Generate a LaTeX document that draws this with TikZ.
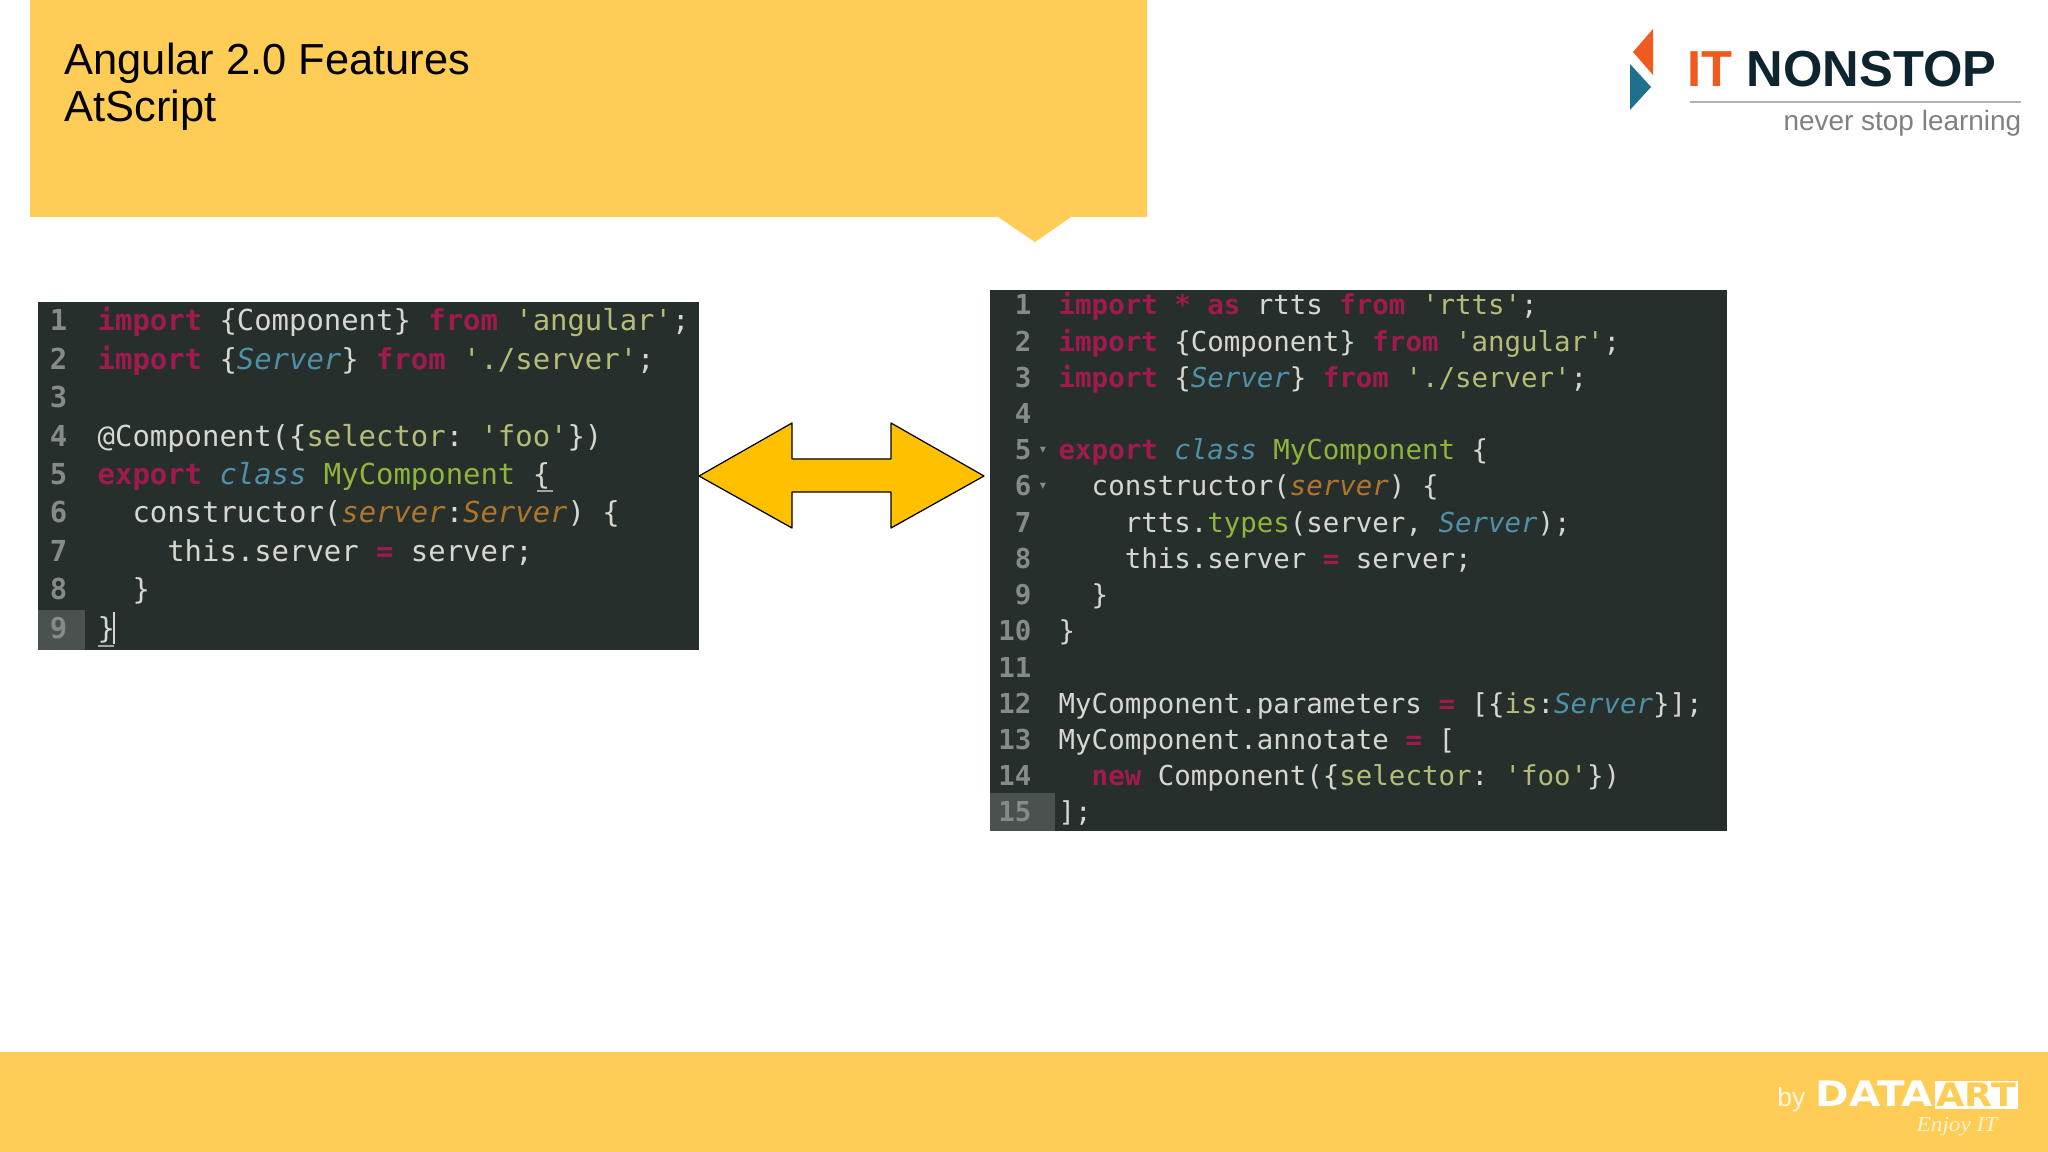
\documentclass[tikz,border=0pt]{standalone}
\usepackage{fontspec}
\setmainfont{Liberation Sans}
\newfontfamily\codefont{DejaVu Sans Mono}
\newfontfamily\widefont{DejaVu Sans}
\newfontfamily\enjoyfont{Liberation Serif}
\definecolor{bandcol}{HTML}{FFCC55}
\definecolor{arrowcol}{HTML}{FFC000}
\definecolor{codebg}{HTML}{272F2C}
\definecolor{gutter}{HTML}{4A514E}
\definecolor{codetxt}{HTML}{D5D7D0}
\definecolor{numcol}{HTML}{858B87}
\definecolor{kwcol}{HTML}{A01A50}
\definecolor{strcol}{HTML}{B4BC78}
\definecolor{typecol}{HTML}{4F90A8}
\definecolor{namecol}{HTML}{8FB53A}
\definecolor{argcol}{HTML}{B0752C}
\definecolor{logored}{HTML}{F05A1E}
\definecolor{logoblue}{HTML}{1F6F8F}
\definecolor{logodark}{HTML}{0E2530}
\newcommand{\kw}[1]{\textcolor{kwcol}{\bfseries #1}}
\newcommand{\str}[1]{\textcolor{strcol}{#1}}
\newcommand{\typ}[1]{\textcolor{typecol}{\itshape #1}}
\newcommand{\nam}[1]{\textcolor{namecol}{#1}}
\newcommand{\arga}[1]{\textcolor{argcol}{\itshape #1}}
\tikzset{
	leftcode/.style={anchor=base west,inner sep=0pt,text=codetxt,font=\codefont\frenchspacing\fontsize{8.22}{10}\selectfont},
	rightcode/.style={anchor=base west,inner sep=0pt,text=codetxt,font=\codefont\frenchspacing\fontsize{7.8}{10}\selectfont},
	leftnum/.style={anchor=base east,inner sep=0pt,text=numcol,font=\codefont\bfseries\fontsize{8.22}{10}\selectfont},
	rightnum/.style={anchor=base east,inner sep=0pt,text=numcol,font=\codefont\bfseries\fontsize{7.8}{10}\selectfont},
	foldmark/.style={inner sep=0pt,text=numcol,font=\widefont\fontsize{3.5}{4}\selectfont}
}
\begin{document}
\begin{tikzpicture}[x=0.01cm,y=-0.01cm,line join=round]
	\useasboundingbox (0,0) rectangle (2048,1152);
	\fill[bandcol] (30,0)--(1147,0)--(1147,217)--(1071,217)--(1035,242)--(998,217)--(30,217)--cycle;
	\fill[bandcol] (0,1052) rectangle (2048,1152);
	\node[anchor=north west,inner sep=0pt,align=left,font=\fontsize{12.35}{13.4}\selectfont] (title) at (64,42) {Angular 2.0 Features\\AtScript};
	\fill[codebg] (38,302) rectangle (699,650);
	\fill[gutter] (38,610) rectangle (85,650);
	\foreach \lineno/\codeline in {
		1/{\kw{import} \{Component\} \kw{from} \str{'angular'};},
		2/{\kw{import} \{\typ{Server}\} \kw{from} \str{'./server'};},
		3/{},
		4/{@Component(\{\str{selector}: \str{'foo'}\})},
		5/{\kw{export} \typ{class} \nam{MyComponent} \{},
		6/{~~constructor(\arga{server}:\arga{Server}) \{},
		7/{~~~~this.server \kw{=} server;},
		8/{~~\}},
		9/{\}}}
	{
		\node[leftnum] (lnum\lineno) at (68,{331+38.4*(\lineno-1)}) {\lineno};
		\node[leftcode] (lcode\lineno) at (97,{331+38.4*(\lineno-1)}) {\codeline};
	}
	\draw[codetxt,line width=0.4pt] (114,612) -- (114,644);
	\draw[codetxt!70!codebg,line width=0.4pt] (98,646) -- (114,646);
	\draw[codetxt!70!codebg,line width=0.4pt] (537,491) -- (553,491);
	\fill[codebg] (990,290) rectangle (1727,831);
	\fill[gutter] (990,793) rectangle (1055,831);
	\foreach \lineno/\codeline in {
		1/{\kw{import} \kw{*} \kw{as} rtts \kw{from} \str{'rtts'};},
		2/{\kw{import} \{Component\} \kw{from} \str{'angular'};},
		3/{\kw{import} \{\typ{Server}\} \kw{from} \str{'./server'};},
		4/{},
		5/{\kw{export} \typ{class} \nam{MyComponent} \{},
		6/{~~constructor(\arga{server}) \{},
		7/{~~~~rtts.\nam{types}(server, \typ{Server});},
		8/{~~~~this.server \kw{=} server;},
		9/{~~\}},
		10/{\}},
		11/{},
		12/{MyComponent.parameters \kw{=} [\{\str{is}:\typ{Server}\}];},
		13/{MyComponent.annotate \kw{=} [},
		14/{~~\kw{new} Component(\{\str{selector}: \str{'foo'}\})},
		15/{];}}
	{
		\node[rightnum] (rnum\lineno) at (1032,{315+36.2*(\lineno-1)}) {\lineno};
		\node[rightcode] (rcode\lineno) at (1058,{315+36.2*(\lineno-1)}) {\codeline};
	}
	\node[foldmark] (fold5) at (1043,450) {▾};
	\node[foldmark] (fold6) at (1043,486) {▾};
	\draw[black,line width=0.35pt,fill=arrowcol] (699,476)--(792,423)--(792,459)--(891,459)--(891,423)--(984,476)--(891,528)--(891,492)--(792,492)--(792,528)--cycle;
	\fill[logored] (1653,29)--(1633,52)--(1653,75)--cycle;
	\fill[logoblue] (1630,64)--(1651,87)--(1630,110)--cycle;
	\node[anchor=base west,inner sep=0pt,font=\bfseries\fontsize{14.4}{16}\selectfont] (logo) at (1687,87) {\textcolor{logored}{IT} \textcolor{logodark}{NONSTOP}};
	\draw[gray!60,line width=0.7pt] (1690,102) -- (2021,102);
	\node[anchor=base east,inner sep=0pt,text=gray,font=\fontsize{7.95}{10}\selectfont] (slogan) at (2022,131) {never stop learning};
	\node[anchor=base east,inner sep=0pt,text=white!85!bandcol,font=\fontsize{7.5}{10}\selectfont] (by) at (1806,1106) {by};
	\node[anchor=base west,inner sep=0pt,text=white,font=\widefont\bfseries\fontsize{10}{12}\selectfont] (data) at (1815,1106) {\scalebox{1.15}[1]{DATA}};
	\node[fill=white,anchor=west,inner sep=0.6pt,text=bandcol,font=\widefont\bfseries\fontsize{9.2}{11}\selectfont] (art) at (1934,1095) {\scalebox{1.12}[1]{ART}};
	\node[anchor=base east,inner sep=0pt,text=white!75!bandcol,font=\enjoyfont\itshape\fontsize{6}{7}\selectfont] (enjoy) at (1998,1131) {\scalebox{1.1}[1]{Enjoy IT}};
\end{tikzpicture}
\end{document}
